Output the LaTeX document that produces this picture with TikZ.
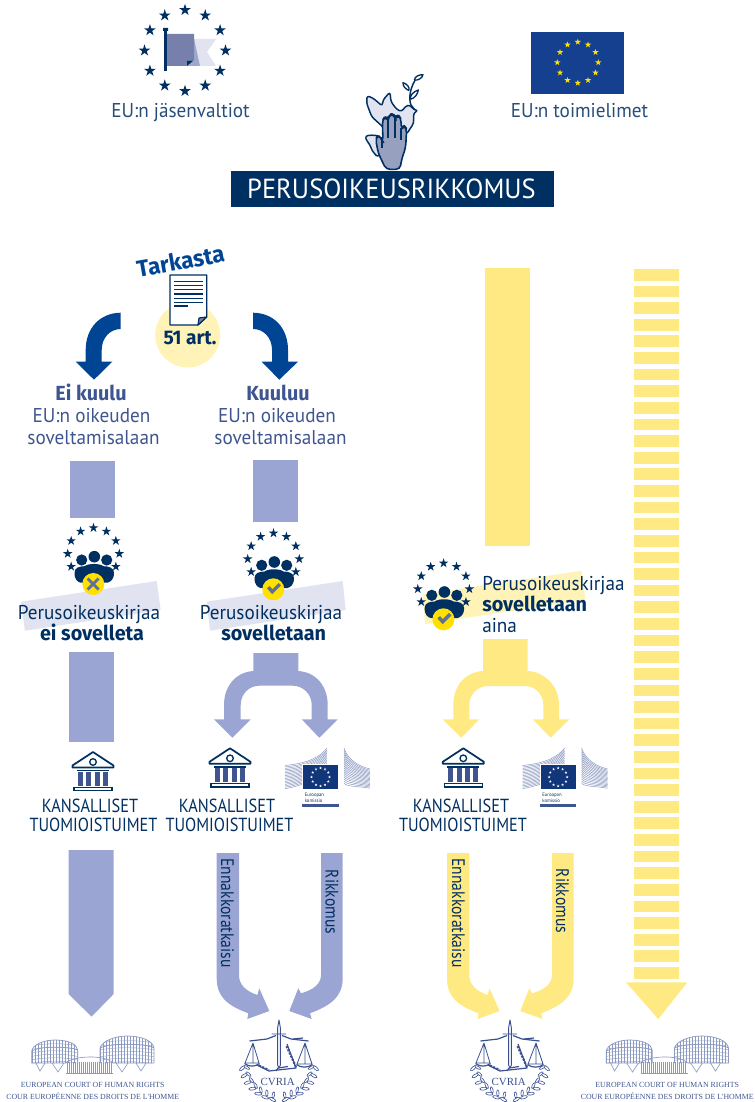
\documentclass[tikz,border=0pt]{standalone}
\usepackage{fontspec}
\setmainfont[FakeStretch=0.96]{PT Sans}
\newfontfamily\narrowf[FakeStretch=0.86]{PT Sans}
\newfontfamily\boldf[FakeStretch=0.97]{Fira Sans}
\newfontfamily\serifcourt{Liberation Serif}
\usetikzlibrary{calc}
\definecolor{navy}{HTML}{002F61}
\definecolor{purp}{HTML}{9BA5D3}
\definecolor{yell}{HTML}{FFE982}
\definecolor{pale}{HTML}{FFF3B8}
\definecolor{lav}{HTML}{E1E3F0}
\definecolor{eublue}{HTML}{004494}
\definecolor{flagblue}{HTML}{15408F}
\definecolor{textblue}{HTML}{3F5590}
\definecolor{midblue}{HTML}{7680AB}
\definecolor{gold}{HTML}{FFE000}
\definecolor{logoblue}{HTML}{3A5090}
\definecolor{logolight}{HTML}{8C9AC2}
\tikzset{
 pics/estar/.style={code={\fill[pic actions] (0,-1)--(.225,-.31)--(.951,-.31)--(.363,.118)--(.588,.809)--(0,.382)--(-.588,.809)--(-.363,.118)--(-.951,-.31)--(-.225,-.31)--cycle;}},
 lbl/.style={inner sep=0pt,text=navy,font=\fontsize{15}{18}\selectfont},
 lblb/.style={lbl,text=textblue},
 capslbl/.style={inner sep=0pt,text=navy,font=\narrowf\fontsize{14.2}{18}\selectfont},
 boldlbl/.style={inner sep=0pt,text=navy,font=\boldf\fontsize{15.3}{18}\selectfont\bfseries},
 vert/.style={inner sep=0pt,text=navy,rotate=-90,font=\narrowf\fontsize{13.6}{16}\selectfont},
 courttxt/.style={inner sep=0pt,text=textblue,font=\serifcourt\fontsize{5.88}{8}\selectfont},
 pics/groupicon/.style={code={
  \foreach \a in {-210,-180,...,30}{\pic[fill=navy,scale=5] at (\a:25.8) {estar};}
  \fill[navy] (-11.8,6.3) circle (5.6) (0.8,3) circle (5.8) (13.2,6.3) circle (5.6);
  \fill[navy] (-19,19) .. controls (-19,14) and (-14,12.5) .. (-9,12.5) .. controls (-5,9.5) and (6,9.5) .. (10,12.5) .. controls (15,12.5) and (20.5,14) .. (20.5,19) .. controls (20.5,26) and (17,28) .. (14,29) -- (-13,29) .. controls (-16,28) and (-19,26) .. (-19,19) -- cycle;
  \fill[gold] (-0.2,30.3) circle (11);
 }},
 pics/checkmark/.style={code={\draw[midblue!80!navy,line width=2.6pt,line join=miter] (-5.5,-1.5)--(-1.5,3)--(6,-4.5);}},
 pics/crossmark/.style={code={\draw[midblue!80!navy,line width=2.2pt] (-5.5,-5.5)--(5.5,5.5) (-5.5,5.5)--(5.5,-5.5);}},
 pics/temple/.style={code={
  \draw[navy,line width=1.3pt,line join=round] (0,0)--(20.5,13.5)--(20.5,15.5)--(-20.5,15.5)--(-20.5,13.5)--cycle;
  \fill[white] (0,10) circle (3.4);
  \draw[navy,line width=1pt] (0,10) circle (3.3);
  \foreach \x in {-12.5,-4.2,4.2,12.5}{\fill[textblue] (\x-2.6,20)rectangle(\x+2.6,33.5);}
  \fill[navy] (-16,18)rectangle(16,19.2);
  \draw[navy,line width=1pt] (-19,35.2) rectangle (19,38.8);
 }},
 pics/eclogo/.style={code={
  \foreach \i in {0,...,16}{\draw[logolight,line width=.38pt] (0,{17.5+\i*1.45}) .. controls (14,{16+\i*1.4}) and (32,{13+\i*1.15}) .. (42,{0+\i*1.7});}
  \foreach \i in {0,...,16}{\draw[logolight,line width=.38pt] (59,{0+\i*2.2}) .. controls (62,{10+\i*1.8}) and (72,{18+\i*1.25}) .. (85,{21+\i*1.2});}
  \fill[white] (17,16) rectangle (54,42);
  \fill[flagblue!85!black] (18,17) rectangle (53,41);
  \foreach \a in {0,30,...,330}{\pic[fill=white,scale=1.5] at ([shift={(\a:9)}]35.5,29) {estar};}
  \node[inner sep=0pt,anchor=base west,text=navy,font=\fontsize{3.7}{4}\selectfont] (eu) at (19.5,48.5) {Euroopan};
  \node[inner sep=0pt,anchor=base west,text=navy,font=\fontsize{3.7}{4}\selectfont] (ko) at (19.5,54.5) {komissio};
  \fill[textblue] (17,56.2) rectangle (53.7,58.8);
 }},
 pics/curia/.style={code={
  \draw[logoblue,line width=.7pt,line join=round]
    (0,-40)--(1.4,-32)--(1.4,5)--(0,8)--(-1.4,5)--(-1.4,-32)--cycle
    (-7.5,-26)--(7,-26);
  \draw[logoblue,line width=.9pt] (-29.5,-19)--(-12,-21)--(-3,-24.5) (29.5,-19)--(12,-21)--(3,-24.5);
  \draw[logoblue,line width=.6pt,line join=round] (-26,-17)--(-34,3)--(-20,3)--cycle (-26,-17)--(-26,3)
    (26,-17)--(18,4)--(33,4)--cycle (26,-17)--(26,4);
  \draw[logoblue,line width=.9pt] (-34.5,3.5) .. controls (-30,7) and (-24,7) .. (-19.5,3.5) (17.5,4.5) .. controls (22,8) and (29,8) .. (33.5,4.5);
  \draw[logoblue,line width=.9pt,line join=round] (-22,5)--(-10,11)--(17,8)--(8,-16) (-3,11)--(-1,8)--(9,6.5) (14,-21)--(24,-22);
  \draw[logoblue,line width=1.6pt,densely dotted] (-20,5.5)--(-10,10.2) (17,7)--(7,-15);
  \foreach \a in {172,160,148,136,124,112,100}{
    \draw[logoblue,line width=.45pt,fill=white] ([shift={(\a:37)}]0,3) ellipse [x radius=3.6,y radius=1.4,rotate=\a+50];
    \draw[logoblue,line width=.45pt,fill=white] ([shift={(\a:32.5)}]0,3) ellipse [x radius=3.2,y radius=1.2,rotate=\a-20];
  }
  \foreach \a in {8,20,32,44,56,68,80}{
    \draw[logoblue,line width=.45pt,fill=white] ([shift={(\a:37)}]0,3) ellipse [x radius=3.6,y radius=1.4,rotate=\a-50];
    \draw[logoblue,line width=.45pt,fill=white] ([shift={(\a:32.5)}]0,3) ellipse [x radius=3.2,y radius=1.2,rotate=\a+20];
  }
  \node[inner sep=0pt,text=logoblue,font=\serifcourt\fontsize{8.2}{10}\selectfont] (cv) at (-1.3,22) {CVRIA};
 }},
 pics/court/.style={code={
  \begin{scope}
   \clip (31.7,1051) .. controls (33,1044) and (45,1040) .. (55,1040) .. controls (68,1040) and (77,1044) .. (77.7,1050) -- (77.7,1063) -- (31.7,1063) -- cycle;
   \foreach \x in {32,35,...,78}{\draw[logolight,line width=.3pt] (\x,1038)--(\x,1064);}
   \foreach \y in {1046,1049.5,...,1064}{\draw[logolight,line width=.3pt] (31,\y)..controls (45,\y-3) and (65,\y-3)..(78,\y);}
  \end{scope}
  \draw[logolight,line width=.55pt] (31.7,1051) .. controls (33,1044) and (45,1040) .. (55,1040) .. controls (68,1040) and (77,1044) .. (77.7,1050) -- (77.7,1063) (31.7,1051) -- (31.7,1063) (31.7,1051) .. controls (40,1046) and (68,1046) .. (77.7,1050);
  \begin{scope}
   \clip (100,1048) .. controls (102,1041) and (115,1036) .. (127,1036) .. controls (142,1036) and (153,1041) .. (154,1048) -- (154,1063) -- (100,1063) -- cycle;
   \foreach \x in {100,103,...,154}{\draw[logolight,line width=.3pt] (\x,1034)--(\x,1064);}
   \foreach \y in {1043,1046.5,...,1064}{\draw[logolight,line width=.3pt] (99,\y)..controls (115,\y-3) and (140,\y-3)..(155,\y);}
  \end{scope}
  \draw[logolight,line width=.55pt] (100,1048) .. controls (102,1041) and (115,1036) .. (127,1036) .. controls (142,1036) and (153,1041) .. (154,1048) -- (154,1063) (100,1048) -- (100,1063) (100,1048) .. controls (110,1043) and (145,1043) .. (154,1048);
  \draw[logolight,line width=.5pt] (36,1063)--(40,1071)--(45,1063) (52,1063)--(58,1072)--(64,1063) (116,1063)--(122,1072)--(128,1063) (136,1063)--(141,1071)--(146,1063) (31.7,1063)--(66,1063) (113,1063)--(154,1063);
  \draw[logolight,line width=.5pt] (66,1063) .. controls (72,1056) and (105,1054) .. (113,1063);
  \draw[logolight,line width=.5pt] (66,1073.5)--(113,1073.5);
  \foreach \x in {67,69,...,112}{\draw[logolight,line width=.35pt] (\x,1062)--(\x,1073);}
 }},
}
\begin{document}
\begin{tikzpicture}[x=0.75pt,y=-0.75pt]
\useasboundingbox (0,0) rectangle (754,1102);

% ---- top row
\coordinate (ring1) at (185,50.5);
\foreach \a in {0,30,...,330}{\pic[fill=navy,scale=6.2] at ([shift={(\a:40.5)}]ring1) {estar};}
\fill[lav] (194,39)--(216,39)--(207,52)--(216,66)--(194,66)--cycle;
\fill[logolight!85!white] (194,39)--(200,66)--(187,66)--(194,60)--cycle;
\fill[midblue] (166,34)--(194,34)--(194,60)--(187,60)--(187,66)--(166,66)--cycle;
\fill[navy] (187,66)--(187,60.5)--(193.5,60.5)--cycle;
\fill[navy] (164.2,30)rectangle(166.8,71) (163,28)rectangle(168,31);
\node[lbl,text=navy!85!white,anchor=base] (lblms) at (180.5,118) {EU:n jäsenvaltiot};

\fill[flagblue] (531,32) rectangle (624,94);
\coordinate (ring2) at (577.8,62.5);
\foreach \a in {0,30,...,330}{\pic[fill=gold,scale=3.3] at ([shift={(\a:20.5)}]ring2) {estar};}
\node[lbl,text=navy!85!white,anchor=base] (lblinst) at (579.5,118) {EU:n toimielimet};

% ---- hand and dove
\begin{scope}[shift={(355,70)},scale=0.3333,line join=round]
 \draw[navy,line width=1.1pt,fill=lav,rounded corners=2pt] (85,172)--(50,140)--(35,100)--(36,77)--(55,85)--(82,108)--(84,90)--(105,66)--(108,95)--(125,118)--(140,125)--(152,108)--(165,105)--(175,118)--(190,122)--(176,128)--(176,160)--(155,192)--(100,200)--cycle;
 \draw[navy,line width=1.1pt,fill=lav,rounded corners=2pt] (75,198)--(50,195)--(30,198)--(36,214)--(45,224)--(50,240)--(68,262)--(82,240)--cycle;
 \draw[navy,line width=1.1pt] (180,120)--(168,105) .. controls (160,85) and (165,50) .. (188,18);
 \draw[navy,line width=1pt,fill=white] (162,62) .. controls (150,55) and (144,50) .. (144,38) .. controls (156,42) and (164,50) .. (162,62);
 \draw[navy,line width=1pt,fill=white] (178,30) .. controls (180,20) and (190,14) .. (204,14) .. controls (202,24) and (190,32) .. (178,30);
 \draw[navy,line width=1pt,fill=white] (166,88) .. controls (165,75) and (175,65) .. (190,60) .. controls (188,72) and (180,85) .. (166,88);
 \draw[navy,line width=1.2pt,fill=midblue!75!white,rounded corners=3pt] (93,298)--(70,250)--(62,208)--(69,193)--(79,208)--(84,215)--(82,152)--(90,139)--(99,150)--(101,140)--(110,130)--(119,140)--(121,145)--(130,135)--(138,146)--(139,178)--(147,166)--(155,176)--(152,232)--(140,268)--(135,298)--cycle;
 \draw[navy,line width=1.5pt] (100,148)--(100,205) (120,145)--(120,205) (138,175)--(138,210) (82,200)--(82,235);
\end{scope}

\fill[navy] (231,171) rectangle (554,207);
\node[inner sep=0pt,text=white,font=\fontsize{20.7}{24}\selectfont,anchor=base] (title) at (391.5,199) {PERUSOIKEUSRIKKOMUS};

% ---- Tarkasta
\fill[pale] (187.7,335) circle (32.5);
\node[inner sep=0pt,rotate=10,text=eublue,font=\boldf\fontsize{17.5}{20}\selectfont\bfseries] (tark) at (180.5,261) {Tarkasta};
\draw[navy,line width=.9pt,fill=white,line join=round] (170,275)--(206.7,275)--(206.7,317)--(198,325)--(170,325)--cycle;
\draw[navy,line width=.9pt,fill=midblue,line join=round] (206.7,317)--(199,318)--(198,325)--cycle;
\foreach \y in {281.7,285.7,289.7,294,298.3,302.3}{\fill[navy] (174,\y-.7) rectangle (203,\y+.7);}
\fill[navy] (174,305) rectangle (188,306.5);
\node[inner sep=0pt,anchor=base,text=navy,font=\boldf\fontsize{14.8}{16}\selectfont\bfseries] (art) at (190,344.5) {51 art.};

% curved blue arrows
\fill[eublue] (120.7,312.7) .. controls (100,313) and (85.7,328) .. (85.7,350) -- (85.7,361.7) -- (75.7,361.7) -- (94,379.7) -- (112.3,361.7) -- (101.7,361.7) -- (101.7,350) .. controls (101.7,338) and (110,329) .. (120.7,329) -- cycle;
\fill[eublue] (253,312.7) .. controls (274,313) and (288,328) .. (288,350) -- (288,361.7) -- (298,361.7) -- (279.3,379.7) -- (261.7,361.7) -- (272,361.7) -- (272,350) .. controls (272,338) and (264,329) .. (253,329) -- cycle;

\node[boldlbl,text=textblue,anchor=base] (eik) at (91,400) {Ei kuulu};
\node[lblb,anchor=base] (eik2) at (91.5,422) {EU:n oikeuden};
\node[lblb,anchor=base] (eik3) at (93.5,444) {soveltamisalaan};
\node[boldlbl,text=textblue,anchor=base] (k1) at (278,400) {Kuuluu};
\node[lblb,anchor=base] (k2) at (277,422) {EU:n oikeuden};
\node[lblb,anchor=base] (k3) at (280.5,444) {soveltamisalaan};

% ---- purple col 1
\fill[purp] (70,461) rectangle (115,518);
\fill[lav] (21,601.7)--(156.7,581)--(160.7,610)--(25,630.7)--cycle;
\pic at (93.5,553.7) {groupicon};
\pic at (93.1,584) {crossmark};
\node[lbl,anchor=base] (pk1) at (89,619) {Perusoikeuskirjaa};
\node[boldlbl,anchor=base] (es) at (92,640) {ei sovelleta};
\fill[purp] (68.7,652) rectangle (113.7,742);
\pic at (93,752) {temple};
\node[capslbl,anchor=base] (ka1) at (90,812.5) {KANSALLISET};
\node[capslbl,anchor=base] (tu1) at (93.5,831.5) {TUOMIOISTUIMET};
\fill[purp] (68.7,850) -- (113.7,850) -- (113.7,994) -- (91.5,1016.7) -- (68.7,994) -- cycle;
\pic at (0,0) {court};
\node[courttxt,anchor=base] (c1a) at (92.7,1087) {EUROPEAN COURT OF HUMAN RIGHTS};
\node[courttxt,anchor=base] (c1b) at (92.7,1099) {COUR EUROPÉENNE DES DROITS DE L'HOMME};

% ---- purple col 2
\fill[purp] (253,460) rectangle (298,522);
\fill[lav] (206.7,601.7)--(342.7,581)--(345.7,610)--(210,630.7)--cycle;
\pic at (273.5,559) {groupicon};
\pic at (273.8,588.7) {checkmark};
\node[lbl,anchor=base] (pk2) at (271,619) {Perusoikeuskirjaa};
\node[boldlbl,anchor=base] (so2) at (273.7,640) {sovelletaan};
\fill[purp] (253.3,653)--(298.3,653)--(298.3,671) .. controls (315,672) and (327.7,685) .. (327.7,705)--(327.7,719.3)--(337.7,719.3)--(319.3,737.7)--(301.7,719.3)--(311.7,719.3)--(311.7,705) .. controls (311.7,694) and (303,685.7) .. (292.7,685.7)--(259.3,685.7) .. controls (249,685.7) and (240.7,694) .. (240.7,705)--(240.7,719.3)--(250.7,719.3)--(232.3,737.7)--(214,719.3)--(224,719.3)--(224,705) .. controls (224,686) and (236,672) .. (253.3,671)--cycle;
\pic at (230,748.3) {temple};
\pic at (285,748) {eclogo};
\node[capslbl,anchor=base] (ka2) at (227,812.5) {KANSALLISET};
\node[capslbl,anchor=base] (tu2) at (229.5,831.5) {TUOMIOISTUIMET};
\fill[purp] (216.7,853)--(239,853)--(239,975) .. controls (239,985) and (246,991) .. (257.3,995)--(259.3,988.3)--(269.3,1011)--(247.3,1019)--(248.3,1013.3) .. controls (226,1005) and (216.7,996) .. (216.7,978)--cycle;
\fill[purp] (321,853)--(342.7,853)--(342.7,978) .. controls (342.7,996) and (332,1005) .. (310,1013.3)--(311.7,1019)--(289.3,1011)--(298.3,988.3)--(301,993.3) .. controls (313,990) and (321,984) .. (321,975)--cycle;
\node[vert] (en2) at (227.5,913) {Ennakkoratkaisu};
\node[vert] (ri2) at (332,902) {Rikkomus};
\pic at (279,1060) {curia};

% ---- yellow col 3
\fill[yell] (485,268) rectangle (530,546);
\fill[pale] (422.7,594.4)--(581.7,570.7)--(585.3,600)--(425,624)--cycle;
\pic at (443.6,589) {groupicon};
\pic at (444.2,618.7) {checkmark};
\node[lbl,anchor=base west] (pk3) at (482,590) {Perusoikeuskirjaa};
\node[boldlbl,anchor=base west] (so3) at (482,611) {sovelletaan};
\node[lbl,anchor=base west] (ai3) at (482,632) {aina};
\fill[yell] (483,639)--(527.5,639)--(527.5,671) .. controls (545,672) and (559,686) .. (559,705)--(559,719.3)--(569.3,719.3)--(550.7,737.7)--(532.7,719.3)--(543.3,719.3)--(543.3,705) .. controls (543.3,694) and (535,686) .. (525,686)--(488,686) .. controls (478,686) and (469.3,694) .. (469.3,705)--(469.3,719.3)--(479.3,719.3)--(461.3,737.7)--(442.7,719.3)--(453.3,719.3)--(453.3,705) .. controls (453.3,686) and (465,672) .. (483,671)--cycle;
\pic at (463.3,748.3) {temple};
\pic at (522.6,748) {eclogo};
\node[capslbl,anchor=base] (ka3) at (461,812.5) {KANSALLISET};
\node[capslbl,anchor=base] (tu3) at (463,831.5) {TUOMIOISTUIMET};
\fill[yell] (447,853)--(469.3,853)--(469.3,975) .. controls (469.3,985) and (476.3,991) .. (487.6,995)--(489.6,988.3)--(499.6,1011)--(477.6,1019)--(478.6,1013.3) .. controls (456.3,1005) and (447,996) .. (447,978)--cycle;
\fill[yell] (552,853)--(573.7,853)--(573.7,978) .. controls (573.7,996) and (563,1005) .. (541,1013.3)--(542.7,1019)--(520.3,1011)--(529.3,988.3)--(532,993.3) .. controls (544,990) and (552,984) .. (552,975)--cycle;
\node[vert] (en3) at (458.5,913) {Ennakkoratkaisu};
\node[vert] (ri3) at (562.5,901) {Rikkomus};
\pic at (510,1060) {curia};

% ---- yellow col 4
\foreach \i in {0,...,42}{\fill[yell] (634,{269+\i*16.62}) rectangle (678.7,{280.7+\i*16.62});}
\fill[yell] (626,982.3)--(687.3,982.3)--(658.3,1019)--cycle;
\pic at (574.5,0) {court};
\node[courttxt,anchor=base] (c2a) at (667.2,1087) {EUROPEAN COURT OF HUMAN RIGHTS};
\node[courttxt,anchor=base] (c2b) at (667.2,1099) {COUR EUROPÉENNE DES DROITS DE L'HOMME};
\end{tikzpicture}
\end{document}
